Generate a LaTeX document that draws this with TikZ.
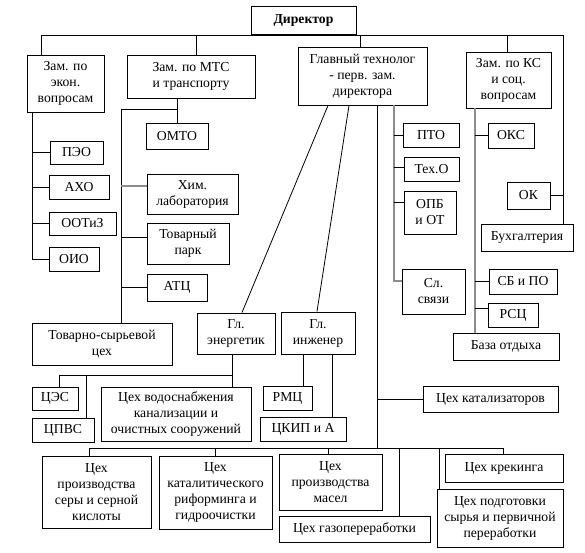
\documentclass[tikz,border=0pt]{standalone}
\usepackage{fontspec}
\setmainfont{Liberation Serif}
\usetikzlibrary{calc}
\definecolor{lgray}{RGB}{140,140,140}
\begin{document}
\begin{tikzpicture}[x=1pt,y=-1pt,
  box/.style={draw, line width=1pt, align=center, inner sep=0pt, fill=white,
    font=\fontsize{13.7}{16}\selectfont},
  conn/.style={draw, line width=1pt},
  gconn/.style={draw=lgray, line width=1.3pt}]
\useasboundingbox (0,0) rectangle (585,552);
\fill[white] (0,0) rectangle (585,552);
\coordinate (bL) at (41,35);
\coordinate (bR) at (563,35);
\coordinate (bM) at (196,35);
\coordinate (bG) at (360,35);
\coordinate (bK) at (507,35);
\coordinate (ekv) at (32,112);
\coordinate (mv) at (121,109);
\coordinate (g3) at (377,105);
\coordinate (g4) at (394,105);
\coordinate (kv) at (475,108);
\coordinate (ev) at (232,354);
\coordinate (eh) at (59,375);
\coordinate (eh2) at (86,375);
\coordinate (bb1) at (89,448);
\coordinate (bb2) at (503,448);
\coordinate (bg) at (399,448);
\coordinate (bp) at (439,448);

% boxes
\node[box, minimum width=105pt, minimum height=28pt] (dir) at (303.5,20) {\bfseries Директор};
\node[box, minimum width=77pt, minimum height=57pt] (zek) at (65.5,83.5) {Зам. по\\экон.\\вопросам};
\node[box, minimum width=128pt, minimum height=43pt] (zmts) at (191,76.5) {Зам. по МТС\\и транспорту};
\node[box, minimum width=129pt, minimum height=58pt] (gt) at (362.5,76) {Главный технолог\\- перв. зам.\\директора};
\node[box, minimum width=85pt, minimum height=56pt] (zks) at (508.5,80) {Зам. по КС\\и соц.\\вопросам};
\node[box, minimum width=53pt, minimum height=23pt] (peo) at (76.5,152.5) {ПЭО};
\node[box, minimum width=60pt, minimum height=24pt] (axo) at (79,187) {АХО};
\node[box, minimum width=67pt, minimum height=23pt] (ootiz) at (82.5,223.5) {ООТиЗ};
\node[box, minimum width=50pt, minimum height=24pt] (oio) at (74,259) {ОИО};
\node[box, minimum width=62pt, minimum height=26pt] (omto) at (177,136) {ОМТО};
\node[box, minimum width=91pt, minimum height=40pt] (xim) at (192.5,194) {Хим.\\лаборатория};
\node[box, minimum width=82pt, minimum height=41pt] (tpark) at (188,243.5) {Товарный\\парк};
\node[box, minimum width=60pt, minimum height=27pt] (atc) at (177,287.5) {АТЦ};
\node[box, minimum width=140pt, minimum height=42pt] (tsc) at (102,344) {Товарно-сырьевой\\цех};
\node[box, minimum width=56pt, minimum height=24pt] (pto) at (431,135) {ПТО};
\node[box, minimum width=55pt, minimum height=24pt] (texo) at (431.5,169) {Тех.О};
\node[box, minimum width=52pt, minimum height=43pt] (opb) at (430,212.5) {ОПБ\\и ОТ};
\node[box, minimum width=63pt, minimum height=45pt] (slsv) at (433.5,291.5) {Сл.\\связи};
\node[box, minimum width=46pt, minimum height=25pt] (oks) at (511,135.5) {ОКС};
\node[box, minimum width=43pt, minimum height=27pt] (ok) at (528.5,195.5) {ОК};
\node[box, minimum width=92pt, minimum height=27pt] (buh) at (527,237.5) {Бухгалтерия};
\node[box, minimum width=68pt, minimum height=25pt] (sbpo) at (523,281.5) {СБ и ПО};
\node[box, minimum width=50pt, minimum height=24pt] (rsc) at (513,315) {РСЦ};
\node[box, minimum width=106pt, minimum height=27pt] (baza) at (506,346.5) {База отдыха};
\node[box, minimum width=78pt, minimum height=41pt] (ener) at (236,333.5) {Гл.\\энергетик};
\node[box, minimum width=74pt, minimum height=42pt] (inzh) at (318,333) {Гл.\\инженер};
\node[box, minimum width=46pt, minimum height=23pt] (ces) at (55,398.5) {ЦЭС};
\node[box, minimum width=62pt, minimum height=24pt] (cpvs) at (63,430) {ЦПВС};
\node[box, minimum width=150pt, minimum height=54pt] (cvod) at (176,414) {Цех водоснабжения\\канализации и\\очистных сооружений};
\node[box, minimum width=49pt, minimum height=24pt] (rmc) at (287.5,398) {РМЦ};
\node[box, minimum width=86pt, minimum height=24pt] (ckip) at (303,429) {ЦКИП и А};
\node[box, minimum width=135pt, minimum height=26pt] (ckat) at (490.5,399) {Цех катализаторов};
\node[box, minimum width=109pt, minimum height=72pt] (cser) at (96.5,492) {Цех\\производства\\серы и серной\\кислоты};
\node[box, minimum width=113pt, minimum height=73pt] (crif) at (215.5,492.5) {Цех\\каталитического\\риформинга и\\гидроочистки};
\node[box, minimum width=103pt, minimum height=56pt] (cmas) at (330.5,482) {Цех\\производства\\масел};
\node[box, minimum width=151pt, minimum height=26pt] (cgaz) at (354.5,529) {Цех газопереработки};
\node[box, minimum width=118pt, minimum height=28pt] (ckrek) at (504,468) {Цех крекинга};
\node[box, minimum width=126pt, minimum height=58pt] (cpodg) at (500,518) {Цех подготовки\\сырья и первичной\\переработки};

% helper points on box sides
\coordinate (xiW) at ([yshift=8pt]xim.west);
\coordinate (tpW) at ([yshift=6.5pt]tpark.west);
\coordinate (slW) at ([yshift=10.5pt]slsv.west);
\coordinate (teW) at ([yshift=2pt]texo.west);
\coordinate (opW) at ([yshift=10.5pt]opb.west);
\coordinate (rsW) at ([yshift=7pt]rsc.west);
\coordinate (gtA) at ([xshift=-34.5pt]gt.south);
\coordinate (gtB) at ([xshift=-13.5pt]gt.south);
\coordinate (enA) at ([xshift=6pt]ener.north);
\coordinate (inA) at ([xshift=-1pt]inzh.north);
\coordinate (inL) at ([xshift=-15pt]inzh.south);
\coordinate (inR) at ([xshift=14pt]inzh.south);
\coordinate (cmN) at ([xshift=-2.5pt]cmas.north);

% top bus
\draw[conn] (bL) -- (bR);
\draw[conn] (bL) -- (bL |- zek.north);
\draw[conn] (bM) -- (bM |- zmts.north);
\draw[conn] (bG) -- (bG |- gt.north);
\draw[conn] (bK) -- (bK |- zks.north);
\draw[conn] (bR) -- (bR |- buh.north);
\draw[conn] (ok.east) -- (ok.east -| bR);

% economics deputy
\draw[conn] (ekv) -- (ekv |- oio.west) -- (oio.west);
\draw[conn] (peo.west) -- (peo.west -| ekv);
\draw[conn] (axo.west) -- (axo.west -| ekv);
\draw[conn] (ootiz.west) -- (ootiz.west -| ekv);

% MTS deputy
\draw[conn] (omto.north) -- (omto.north |- zmts.south);
\draw[conn] (omto.north |- mv) -- (mv) -- (mv |- tsc.north);
\draw[gconn] (xiW) -- (xiW -| mv);
\draw[conn] (tpW) -- (tpW -| mv);
\draw[conn] (atc.west) -- (atc.west -| mv);

% chief technologist
\draw[conn, line width=0.8pt] (gtA) -- (enA);
\draw[conn, line width=0.8pt] (gtB) -- (inA);
\draw[conn] (g3) -- (g3 |- bb1);
\draw[conn] (ckat.west) -- (ckat.west -| g3);
\draw[gconn] (g4) -- (g4 |- slW) -- (slW);
\draw[conn] (pto.west) -- (pto.west -| g4);
\draw[conn] (teW) -- (teW -| g4);
\draw[conn] (opW) -- (opW -| g4);

% KS deputy
\draw[gconn] (kv) -- (kv |- baza.north);
\draw[conn] (oks.west) -- (oks.west -| kv);
\draw[conn] (sbpo.west) -- (sbpo.west -| kv);
\draw[conn] (rsW) -- (rsW -| kv);

% energetic
\draw[conn] (ev) -- (ev |- cvod.north);
\draw[conn] (eh) -- (eh -| ev);
\draw[conn] (eh) -- (eh |- ces.north);
\draw[conn] (eh2) -- (eh2 |- cpvs.north);

% engineer
\draw[conn] (inL) -- (inL |- rmc.north);
\draw[conn] (inR) -- (inR |- ckip.north);

% bottom bus
\draw[conn] (bb1) -- (bb2);
\draw[conn] (bb1) -- (bb1 |- cser.north);
\draw[conn] (crif.north |- bb1) -- (crif.north);
\draw[conn] (cmN |- bb1) -- (cmN);
\draw[conn] (bg) -- (bg |- cgaz.north);
\draw[conn] (bp) -- (bp |- cpodg.north);
\draw[conn] (bb2) -- (bb2 |- ckrek.north);
\end{tikzpicture}
\end{document}
